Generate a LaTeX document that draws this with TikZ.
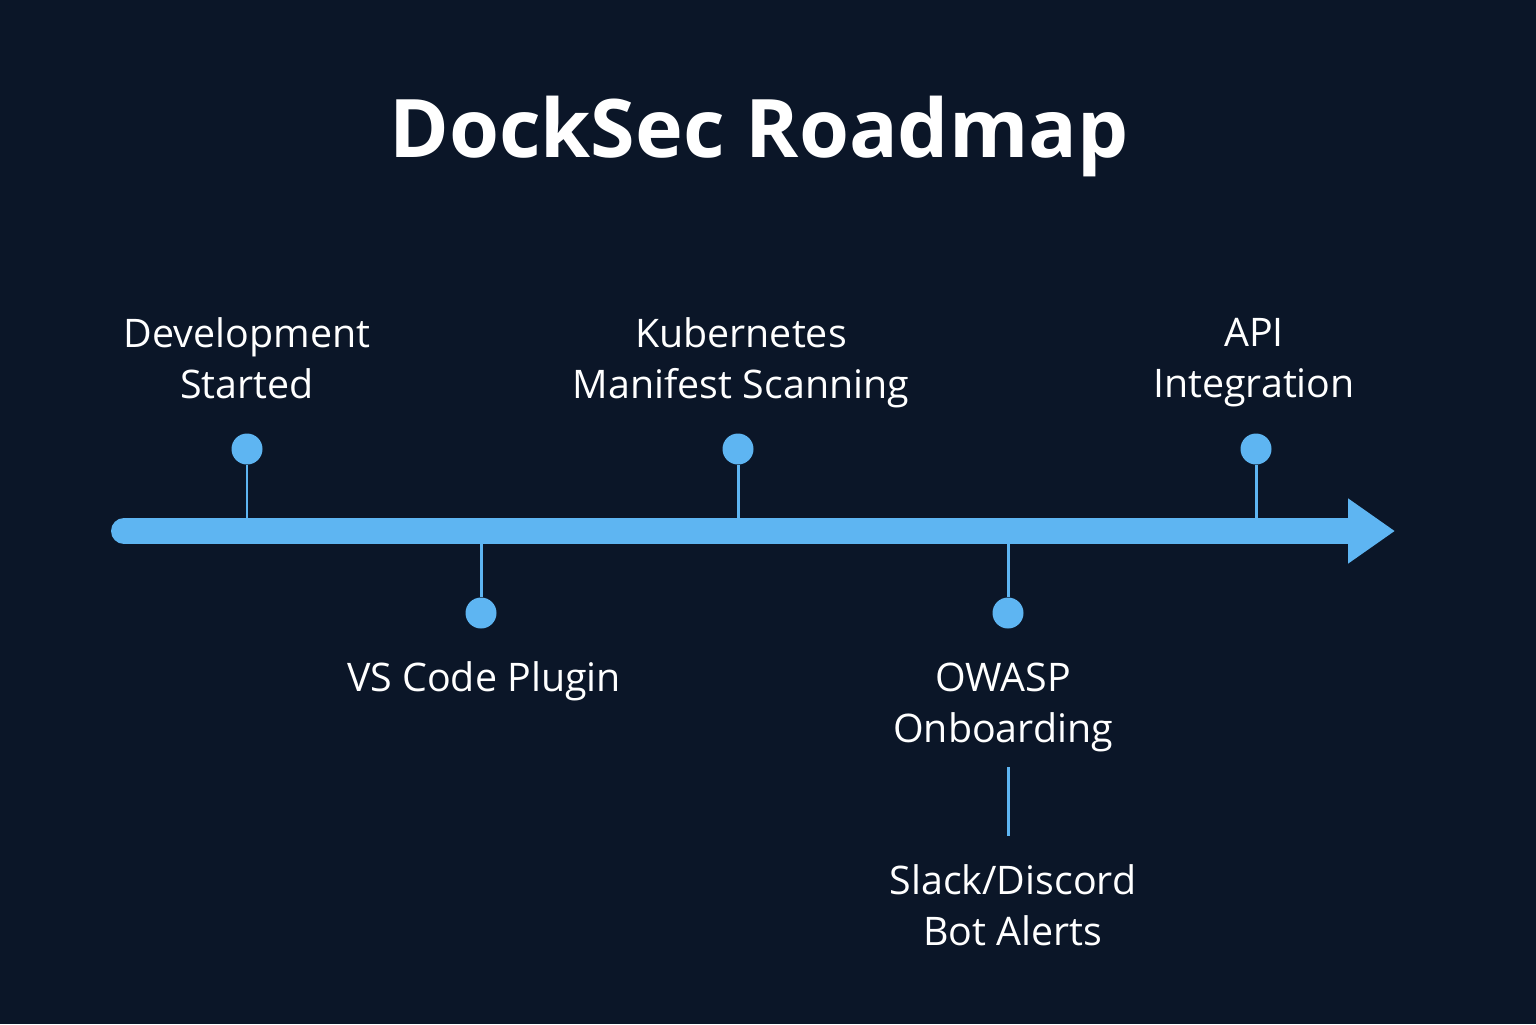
\documentclass[tikz,border=0pt]{standalone}
\usepackage{fontspec}
\setmainfont{Open Sans}
\usetikzlibrary{arrows.meta}
\definecolor{navy}{HTML}{0B1628}
\definecolor{sky}{HTML}{5EB5F2}

\begin{document}
\begin{tikzpicture}[dot/.style={circle,fill=sky,inner sep=0pt,minimum size=0.31cm},
  stem/.style={sky,line width=0.85pt},
  lbl/.style={text=white,align=center,font=\fontsize{11.2}{14.5}\selectfont}]
\fill[navy] (0,0) rectangle (15.36,-10.24);
\useasboundingbox (0,0) rectangle (15.36,-10.24);
\node[text=white,font=\fontsize{23}{26}\selectfont\bfseries] (title) at (7.59,-1.36) {DockSec Roadmap};

% axis
\coordinate (start) at (1.24,-5.31);
\coordinate (end) at (13.95,-5.31);
\draw[sky,line width=0.26cm,line cap=round,-{Triangle[length=0.47cm,width=0.62cm]}] (start) -- (end);

% above the axis
\node[dot] (dev) at (2.47,-4.49) {};
\coordinate (dev axis) at (2.47,-5.31);
\draw[stem] (dev) -- (dev axis);
\node[lbl] (dev text) at (2.47,-3.585) {Development\\Started};

\node[dot] (kube) at (7.38,-4.49) {};
\coordinate (kube axis) at (7.38,-5.31);
\draw[stem] (kube) -- (kube axis);
\node[lbl] (kube text) at (7.41,-3.625) {Kubernetes\\Manifest Scanning};

\node[dot] (api) at (12.56,-4.49) {};
\coordinate (api axis) at (12.56,-5.31);
\draw[stem] (api) -- (api axis);
\node[lbl] (api text) at (12.54,-3.625) {API\\Integration};

% below the axis
\node[dot] (vsc) at (4.81,-6.13) {};
\coordinate (vsc axis) at (4.81,-5.31);
\draw[stem] (vsc axis) -- (vsc);
\node[lbl] (vsc text) at (4.84,-6.81) {VS Code Plugin};

\node[dot] (owasp) at (10.08,-6.13) {};
\coordinate (owasp axis) at (10.08,-5.31);
\draw[stem] (owasp axis) -- (owasp);
\node[lbl] (owasp text) at (10.03,-7.07) {OWASP\\Onboarding};

\coordinate (bot top) at (10.08,-7.67);
\coordinate (bot low) at (10.08,-8.36);
\draw[stem] (bot top) -- (bot low);
\node[lbl] (bot text) at (10.13,-9.05) {Slack/Discord\\Bot Alerts};
\end{tikzpicture}
\end{document}
